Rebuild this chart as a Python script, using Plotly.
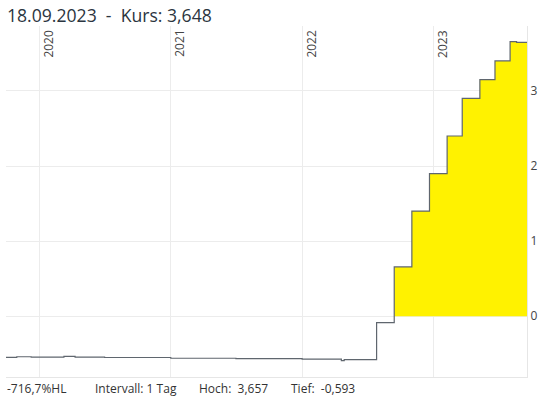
import plotly.graph_objects as go

# Step-change dates and the level held from each date
dates = [
    "2019-10-01", "2019-10-31", "2019-12-10", "2020-03-10", "2020-04-10",
    "2020-07-01", "2021-01-01", "2021-07-01", "2022-01-01", "2022-04-20",
    "2022-04-28", "2022-07-27", "2022-09-14", "2022-11-02", "2022-12-21",
    "2023-02-08", "2023-03-22", "2023-05-10", "2023-06-21", "2023-08-02",
    "2023-08-20", "2023-09-18",
]
values = [
    -0.549, -0.540, -0.545, -0.535, -0.545,
    -0.550, -0.560, -0.565, -0.572, -0.593,
    -0.578, -0.085, 0.656, 1.400, 1.900,
    2.400, 2.900, 3.150, 3.400, 3.657,
    3.648, 3.648,
]

year_ticks = ["2020-01-01", "2021-01-01", "2022-01-01", "2023-01-01"]
year_labels = ["2020", "2021", "2022", "2023"]
y_ticks = [0, 1, 2, 3]

title_text = "18.09.2023  -  Kurs: 3,648"
footer_texts = ["-716,7%HL", "Intervall: 1 Tag", "Hoch:  3,657", "Tief:  -0,593"]
footer_px = [5, 93, 197, 289]

W, H = 542, 398
ml, mr, mt, mb = 6, 15, 26, 21
pw = W - ml - mr

positive = [max(0.0, v) for v in values]

fig = go.Figure()
fig.add_trace(go.Scatter(
    x=dates, y=positive, mode="lines", line=dict(width=0, shape="hv"),
    fill="tozeroy", fillcolor="#fff200", hoverinfo="skip", showlegend=False,
))
fig.add_trace(go.Scatter(
    x=dates, y=values, mode="lines",
    line=dict(color="#5f666e", width=1.2, shape="hv"), showlegend=False,
))

font_family = "Open Sans, Noto Sans, sans-serif"
annotations = [
    dict(text=title_text, xref="paper", yref="paper", x=0, y=1,
         xanchor="left", yanchor="middle", yshift=11, xshift=-1, showarrow=False,
         font=dict(size=17.6, color="#2b3540", family=font_family)),
]
for d, lab in zip(year_ticks, year_labels):
    annotations.append(dict(
        text=lab, x=d, xref="x", y=1, yref="paper", textangle=-90,
        xanchor="left", yanchor="top", xshift=-2, yshift=-2, showarrow=False,
        font=dict(size=12, color="#444", family=font_family)))
for t, px in zip(footer_texts, footer_px):
    annotations.append(dict(
        text=t, xref="paper", x=(px - ml) / pw, y=0, yref="paper",
        xanchor="left", yanchor="middle", yshift=-11, showarrow=False,
        font=dict(size=12, color="#333", family=font_family)))

fig.update_layout(
    width=W, height=H, margin=dict(l=ml, r=mr, t=mt, b=mb, autoexpand=False),
    paper_bgcolor="white", plot_bgcolor="white",
    annotations=annotations,
    xaxis=dict(range=["2019-10-01", "2023-09-18"], tickvals=year_ticks,
               showticklabels=False, showgrid=True, gridcolor="#ececec",
               gridwidth=1, zeroline=False, showline=True, linecolor="#e6e6e6",
               ticks=""),
    yaxis=dict(range=[-0.81, 3.865], side="right", tickvals=y_ticks,
               ticktext=[str(v) for v in y_ticks], showgrid=True,
               gridcolor="#ececec", zeroline=False, showline=True,
               linecolor="#e6e6e6", ticks="",
               tickfont=dict(size=12, color="#444", family=font_family)),
    font=dict(family=font_family),
)

fig.write_html("out.html")
